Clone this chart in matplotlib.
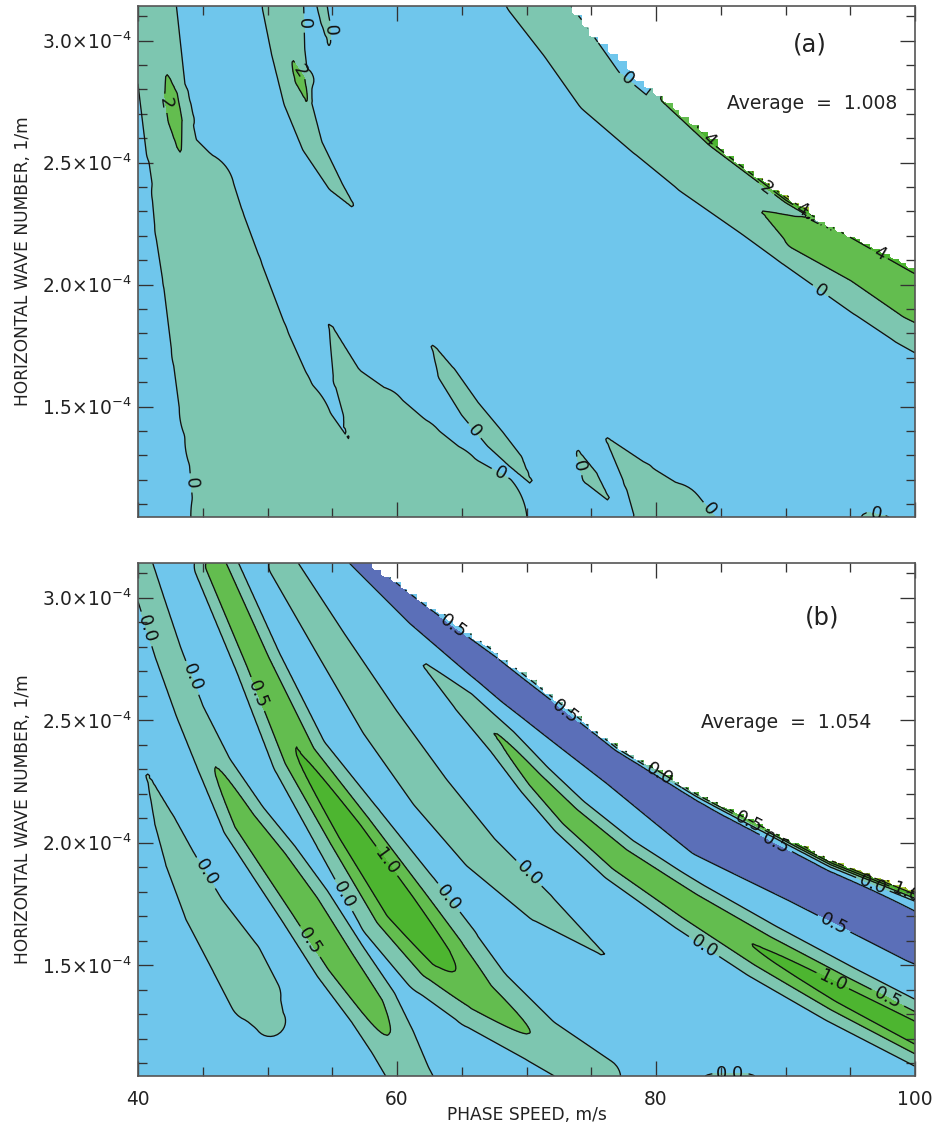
import numpy as np
import matplotlib
matplotlib.use("Agg")
import matplotlib.pyplot as plt
from matplotlib.ticker import FixedLocator, FuncFormatter, MultipleLocator

plt.rcParams['font.family'] = ['DejaVu Sans']
plt.rcParams['mathtext.default'] = 'regular'
plt.rcParams['contour.negative_linestyle'] = 'solid'

# ------------------------------------------------------------------ data
# axes: phase speed (m/s) and horizontal wave number (units of 1e-4 1/m)
C_RANGE = (40.0, 100.0)
K_RANGE = (2 * np.pi / 60000 * 1e4, 2 * np.pi / 20000 * 1e4)
X_TICKS = [40, 60, 80, 100]
Y_TICKS = [1.5, 2.0, 2.5, 3.0]

COLORS = ['#5b6fb8', '#6fc6ec', '#7dc6b0', '#63bd4f', '#4db530', '#a8d23a', '#f3ea22']

# ---------------- panel (a)
A_LEVELS = [-2, 0, 2, 4, 6, 8]
A_BASE = -1.0
A_AVERAGE = "1.008"
A_MASK_C = [72.0, 73.5, 75.7, 80.0, 84.2, 88.0, 90.1, 93.7, 97.0, 100.0, 102.0]
A_MASK_K = [3.22, 3.15, 3.02, 2.80, 2.62, 2.45, 2.38, 2.24, 2.16, 2.07, 2.02]

# ridges: centre line (c, k), peak value, half width (m/s) of the reference contour
A_R1 = dict(c=[41.16, 41.85, 42.63, 44.25, 44.79, 45.79, 47.18, 48.49, 49.42, 51.58, 52.12],
            k=[3.139, 2.804, 2.551, 2.380, 2.237, 2.033, 1.735, 1.490, 1.367, 1.053, 0.959],
            peak=[1.0] * 11,
            half=[1.8, 1.8, 2.0, 3.2, 3.5, 3.9, 4.6, 5.3, 5.8, 7.5, 7.5], ref=0)
A_SPIKE = dict(c=[54.83, 56.22, 58.38, 60.62, 62.94, 64.86],
               k=[1.833, 1.612, 1.449, 1.286, 1.135, 1.020],
               peak=[1.0] * 6, half=[0.1, 1.15, 2.5, 3.4, 4.2, 5.2], ref=0)
A_BLOB1 = dict(c=[42.24, 42.55, 42.86, 43.24], k=[2.853, 2.776, 2.673, 2.551],
               peak=[2.6] * 4, half=[0.15, 0.5, 0.55, 0.15], ref=2)
A_R3 = dict(c=[51.20, 51.58, 52.28, 53.44, 55.21, 56.60],
            k=[3.139, 2.959, 2.755, 2.571, 2.408, 2.322],
            peak=[1.0] * 6, half=[1.6, 1.3, 1.05, 0.8, 0.55, 0.1], ref=0)
A_BLOB2 = dict(c=[51.89, 52.51, 53.05], k=[2.918, 2.837, 2.755],
               peak=[2.6] * 3, half=[0.1, 0.4, 0.1], ref=2)
A_PRONG = dict(c=[54.13, 54.44, 54.83], k=[3.163, 3.082, 2.976],
               peak=[1.0] * 3, half=[0.4, 0.35, 0.05], ref=0)
A_R4 = dict(c=[70.27, 72.97, 75.68, 79.54, 83.40, 88.03, 91.12, 96.52, 100.0, 101.93],
            k=[3.184, 3.000, 2.796, 2.624, 2.494, 2.310, 2.184, 1.988, 1.890, 1.833],
            peak=[1.0] * 10, half=[2.0, 2.0, 2.0, 2.05, 2.6, 2.4, 2.3, 2.4, 2.8, 2.8], ref=0)
A_R4G = dict(c=[88.26, 91.12, 95.75, 100.0, 101.93], k=[2.298, 2.210, 2.080, 1.950, 1.900],
             peak=[2.8, 3.2, 3.5, 3.6, 3.6], half=[0.1, 1.3, 1.4, 1.8, 1.8], ref=2)
A_EDGE = dict(c=[80.63, 84.49, 90.35, 93.67, 100.0, 101.93],
              k=[2.764, 2.592, 2.368, 2.258, 2.074, 2.023],
              peak=[2.2, 5.0, 9.0, 6.5, 6.0, 6.0], half=[0.3, 0.55, 0.7, 0.6, 0.8, 0.8], ref=2)
A_R5 = dict(c=[62.78, 63.86, 65.64, 67.57, 69.11, 70.27], k=[1.747, 1.633, 1.490, 1.367, 1.278, 1.192],
            peak=[1.0] * 6, half=[0.1, 0.7, 0.8, 0.8, 0.6, 0.1], ref=0)
A_R6 = dict(c=[73.90, 74.90, 76.29], k=[1.318, 1.212, 1.122],
            peak=[1.0] * 3, half=[0.1, 0.6, 0.1], ref=0)
A_R7 = dict(c=[76.22, 78.76, 81.08, 82.63], k=[1.367, 1.204, 1.041, 0.939],
            peak=[1.0] * 4, half=[0.1, 1.3, 2.8, 2.8], ref=0)
A_R8 = dict(c=[96.37, 97.68], k=[1.033, 1.020], peak=[1.0, 1.0], half=[0.6, 0.6], ref=0)
A_RIDGES = [A_R1, A_SPIKE, A_BLOB1, A_R3, A_BLOB2, A_PRONG, A_R4, A_R4G, A_EDGE,
            A_R5, A_R6, A_R7, A_R8]

# ---------------- panel (b)
B_LEVELS = [-0.5, 0.0, 0.5, 1.0, 1.5, 2.0]
B_BASE = -0.25
B_AVERAGE = "1.054"
B_MASK_C = [57.0, 58.5, 68.0, 77.2, 83.4, 93.7, 100.0, 102.0]
B_MASK_K = [3.19, 3.13, 2.78, 2.40, 2.21, 1.935, 1.81, 1.77]

B_L1 = dict(c=[40.70, 42.08, 43.32, 45.17, 47.64, 49.03, 50.19],
            k=[2.280, 2.085, 1.923, 1.720, 1.516, 1.374, 1.272],
            peak=[0.3] * 7, half=[0.05, 0.8, 1.2, 1.6, 2.0, 2.0, 1.2], ref=0)
B_B1 = dict(c=[40.15, 41.08, 42.32, 44.02, 45.95, 48.26, 50.50, 52.90, 55.60, 58.07, 59.61, 61.00, 61.78],
            k=[3.130, 2.980, 2.776, 2.533, 2.309, 2.085, 1.923, 1.740, 1.516, 1.333, 1.191, 1.045, 0.967],
            peak=[0.3, 0.3, 0.3, 0.35, 0.5, 0.8, 0.9, 0.95, 0.9, 0.75, 0.45, 0.3, 0.3],
            half=[1.0, 1.0, 1.05, 1.1, 1.3, 1.8, 2.0, 2.1, 2.1, 2.0, 1.8, 1.6, 1.6], ref=0)
B_G1 = dict(c=[46.02, 49.27, 52.51, 56.37, 60.23, 63.32, 66.41, 71.04, 75.68],
            k=[3.130, 2.736, 2.350, 2.045, 1.740, 1.537, 1.374, 1.191, 1.037],
            peak=[0.8, 0.85, 1.02, 1.3, 1.35, 1.15, 0.75, 0.45, 0.3],
            half=[1.67, 1.8, 2.2, 2.8, 3.4, 3.3, 2.6, 1.8, 1.6], ref=0)
B_C = dict(c=[51.20, 54.83, 58.69, 62.55, 66.41, 71.04, 75.91],
           k=[3.130, 2.817, 2.492, 2.207, 1.963, 1.740, 1.545],
           peak=[0.3] * 7, half=[1.1, 1.3, 1.55, 1.6, 1.5, 1.2, 0.1], ref=0)
B_D = dict(c=[62.16, 65.25, 68.19, 70.66, 73.36, 77.22, 82.63, 88.26, 94.21, 100.0, 102.70],
           k=[2.724, 2.573, 2.411, 2.256, 2.106, 1.931, 1.740, 1.557, 1.382, 1.224, 1.150],
           peak=[0.3, 0.42, 0.53, 0.7, 0.8, 0.85, 0.9, 1.02, 1.2, 1.3, 1.3],
           half=[0.15, 0.9, 1.2, 1.4, 1.6, 1.8, 2.0, 2.2, 2.3, 2.3, 2.3], ref=0)
B_BUMP = dict(c=[84.56, 86.87], k=[0.967, 0.967], peak=[0.3, 0.3], half=[1.7, 1.7], ref=0)
B_EDGE = dict(c=B_MASK_C, k=B_MASK_K,
              peak=[0.1, 0.1, 0.6, 1.2, 1.5, 2.0, 2.3, 2.3],
              half=[0.3, 0.3, 0.45, 0.55, 0.65, 0.85, 0.95, 0.95], ref=0)
B_TROUGH = dict(c=[56.37, 61.78, 68.96, 77.22, 83.94, 91.12, 100.15, 102.70],
                k=[3.224, 2.939, 2.634, 2.313, 2.045, 1.855, 1.606, 1.550],
                peak=[-0.85] * 8, half=[1.15, 1.15, 1.45, 1.7, 2.05, 1.95, 1.85, 1.85], ref=-0.5)
B_RIDGES = [B_L1, B_B1, B_G1, B_C, B_D, B_BUMP, B_EDGE, B_TROUGH]

# ------------------------------------------------------------------ layout
FIG_W, FIG_H = 935, 1131
AX_LEFT, AX_WIDTH = 138, 777
PANELS = [dict(top=6, bottom=517), dict(top=563, bottom=1076)]


def build_field(cg, kg, ridges, base, ks):
    pos = np.zeros_like(cg)
    neg = np.zeros_like(cg)
    X, Y = cg, kg * ks
    for r in ridges:
        c = np.asarray(r['c'], float)
        k = np.asarray(r['k'], float) * ks
        pk = np.asarray(r['peak'], float)
        hf = np.asarray(r['half'], float)
        ref = r['ref']
        for j in range(len(c) - 1):
            dx, dy = c[j + 1] - c[j], k[j + 1] - k[j]
            L2 = dx * dx + dy * dy
            t = np.clip(((X - c[j]) * dx + (Y - k[j]) * dy) / L2, 0, 1)
            d = np.hypot(X - (c[j] + t * dx), Y - (k[j] + t * dy))
            p = pk[j] + t * (pk[j + 1] - pk[j])
            h = hf[j] + t * (hf[j + 1] - hf[j])
            amp = p - base
            rr = amp / (ref - base)
            val = amp * np.exp(-np.log(rr) * (d / h) ** 2)
            if amp.max() > 0:
                pos = np.maximum(pos, val)
            else:
                neg = np.minimum(neg, val)
    return base + pos + neg


fig = plt.figure(figsize=(FIG_W / 100, FIG_H / 100), dpi=100)

cgrid = np.linspace(C_RANGE[0], C_RANGE[1], 241)
kgrid = np.linspace(K_RANGE[0], K_RANGE[1], 211)
CG, KG = np.meshgrid(cgrid, kgrid)
step = 0.7
C_STEP = C_RANGE[0] + (np.floor((CG - C_RANGE[0]) / step) + 1) * step

panel_specs = [
    (A_RIDGES, A_BASE, A_LEVELS, A_MASK_C, A_MASK_K, "(a)", A_AVERAGE,
     (0.865, 0.924), (0.867, 0.810), lambda v: f"{v:.0f}"),
    (B_RIDGES, B_BASE, B_LEVELS, B_MASK_C, B_MASK_K, "(b)", B_AVERAGE,
     (0.880, 0.893), (0.834, 0.690), lambda v: f"{abs(v):.1f}"),
]

for i, (ridges, base, levels, mc, mk, tag, avg, tagpos, avgpos, fmt) in enumerate(panel_specs):
    pan = PANELS[i]
    hpx = pan['bottom'] - pan['top']
    ax = fig.add_axes([AX_LEFT / FIG_W, 1 - pan['bottom'] / FIG_H, AX_WIDTH / FIG_W, hpx / FIG_H])
    ks = (hpx / (K_RANGE[1] - K_RANGE[0])) / (AX_WIDTH / (C_RANGE[1] - C_RANGE[0]))
    Z = build_field(CG, KG, ridges, base, ks)
    mask = KG > np.interp(C_STEP, mc, mk)
    Zm = np.ma.masked_where(mask, Z)
    Y = KG * 1e-4
    fill_levels = [-1e3] + list(levels) + [1e3]
    ax.contourf(CG, Y, Zm, levels=fill_levels, colors=COLORS[:len(fill_levels) - 1])
    cs = ax.contour(CG, Y, Zm, levels=levels, colors='#111111', linewidths=0.95)
    ax.clabel(cs, fmt=fmt, fontsize=13, inline=True, inline_spacing=4)

    ax.set_xlim(*C_RANGE)
    ax.set_ylim(K_RANGE[0] * 1e-4, K_RANGE[1] * 1e-4)
    ax.xaxis.set_major_locator(FixedLocator(X_TICKS))
    ax.xaxis.set_minor_locator(MultipleLocator(5))
    ax.yaxis.set_major_locator(FixedLocator([v * 1e-4 for v in Y_TICKS]))
    ax.yaxis.set_minor_locator(MultipleLocator(0.1e-4))
    ax.yaxis.set_major_formatter(FuncFormatter(lambda v, p: f"{v * 1e4:.1f}\u00d710$^{{-4}}$"))
    ax.tick_params(which='both', direction='in', top=True, right=True, color='#333333', width=0.95)
    ax.tick_params(which='major', length=10.8)
    ax.tick_params(which='minor', length=6.2)
    ax.tick_params(axis='y', labelsize=13.4, pad=4.5, labelcolor='#222222')
    ax.tick_params(axis='x', labelsize=13.4, pad=10, labelcolor='#222222')
    for s in ax.spines.values():
        s.set_color('#555555')
        s.set_linewidth(1.2)
    ax.set_ylabel("HORIZONTAL WAVE NUMBER, 1/m", fontsize=12.3, color='#222222')
    ax.yaxis.set_label_coords(-0.137, 0.5)
    if i == 0:
        ax.tick_params(axis='x', labelbottom=False)
    else:
        ax.set_xlabel("PHASE SPEED, m/s", fontsize=12.3, color='#222222')
        ax.xaxis.set_label_coords(0.5, -0.058)
    ax.text(tagpos[0], tagpos[1], tag, transform=ax.transAxes, ha='center', va='center',
            fontsize=17.5, color='#222222')
    ax.text(avgpos[0], avgpos[1], f"Average  =  {avg}", transform=ax.transAxes,
            ha='center', va='center', fontsize=13.5, color='#222222')

fig.savefig("out.png", dpi=100)
